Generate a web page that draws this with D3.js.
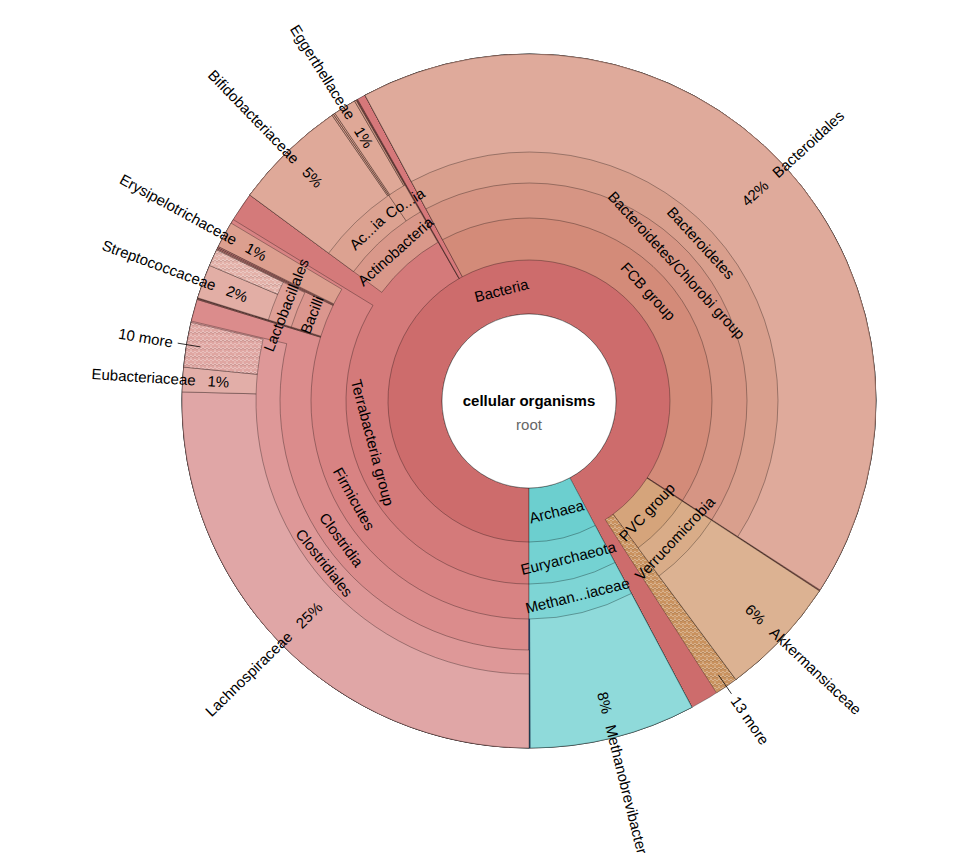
<!DOCTYPE html>
<html>
<head>
<meta charset="utf-8">
<script src="https://cdn.jsdelivr.net/npm/d3@7"></script>
<style>
body { margin: 0; background: #fff; }
text { font-family: "Liberation Sans", Arial, Helvetica, sans-serif; }
</style>
</head>
<body>
<div class="holderKrona"></div>
<script>
// taxa, their parent and the share of reads assigned to each one (percent)
// names starting with "_" are unlabelled: gaps, tiny wedges, collapsed bits
var names = [
  'cellular organisms', 'Bacteria', 'Terrabacteria group', 'Firmicutes', 'Clostridia',
  'Clostridiales', 'Lachnospiraceae', 'Eubacteriaceae', '10 more', '_gap1',
  '_gap2', '_minor1', '_minor2', 'Bacilli', 'Lactobacillales',
  'Streptococcaceae', '_lactoMore', '_gap3', '_minor3', '_minor4',
  'Erysipelotrichaceae', '_gap4', '_gap5', 'Actinobacteria', 'Ac...ia',
  'Bifidobacteriaceae', '_minor5', 'Co...ia', '_minor6', 'Eggerthellaceae',
  '_minor7', '_gap6', '_minor8', '_other', 'FCB group',
  'Bacteroidetes/Chlorobi group', 'Bacteroidetes', 'Bacteroidales', '_minor9', 'PVC group',
  'Verrucomicrobia', 'Akkermansiaceae', '13 more', '_gap7', 'Archaea',
  'Euryarchaeota', 'Methan...iaceae', 'Methanobrevibacter', '_minor10'
]
var parents = [
  '', 'cellular organisms', 'Bacteria', 'Terrabacteria group', 'Firmicutes',
  'Clostridia', 'Clostridiales', 'Clostridiales', 'Clostridiales', 'Clostridiales',
  'Clostridia', 'Firmicutes', 'Firmicutes', 'Firmicutes', 'Bacilli',
  'Lactobacillales', 'Lactobacillales', 'Bacilli', 'Firmicutes', 'Firmicutes',
  'Firmicutes', 'Firmicutes', 'Terrabacteria group', 'Terrabacteria group', 'Actinobacteria',
  'Ac...ia', 'Ac...ia', 'Actinobacteria', 'Co...ia', 'Co...ia',
  'Co...ia', 'Terrabacteria group', 'Bacteria', 'Bacteria', 'Bacteria',
  'FCB group', 'Bacteroidetes/Chlorobi group', 'Bacteroidetes', 'Bacteria', 'Bacteria',
  'PVC group', 'Verrucomicrobia', 'Bacteria', 'Bacteria', 'cellular organisms',
  'Archaea', 'Euryarchaeota', 'Methan...iaceae', 'Methan...iaceae'
]
var values = [
  0, 0, 0, 0, 0,
  0, 25.42, 1.14, 2.08, 0.06,
  1.03, 0.04, 0.04, 0, 0,
  1.58, 0.78, 0.06, 0.06, 0.06,
  1.22, 0.19, 1.36, 0, 0,
  5.28, 0.08, 0, 0.08, 1.06,
  0.08, 0.04, 0.04, 0.39, 0,
  0, 0, 42.0, 0.06, 0,
  0, 5.61, 1.08, 1.31, 0,
  0, 0, 7.74, 0.04
]

var hatched = ['10 more', '13 more', '_lactoMore']

var colors = {
  'Bacteria': '#cd6c6c', 'Terrabacteria group': '#d47a7a', 'Firmicutes': '#d88383',
  'Clostridia': '#db8c8c', 'Clostridiales': '#de9898', 'Lachnospiraceae': '#e0a6a6',
  'Eubacteriaceae': '#e2aea8', '10 more': '#dfa6a2', 'Bacilli': '#db968e',
  'Lactobacillales': '#de9f96', 'Streptococcaceae': '#e2aea5', '_lactoMore': '#e3b1a9',
  'Erysipelotrichaceae': '#dc9f8f', 'Actinobacteria': '#d9988a', 'Ac...ia': '#dca291',
  'Bifidobacteriaceae': '#dfa999', 'Co...ia': '#dca08e', 'Eggerthellaceae': '#dfa897',
  '_other': '#d6787a', 'FCB group': '#d38b79', 'Bacteroidetes/Chlorobi group': '#d69584',
  'Bacteroidetes': '#d99f8d', 'Bacteroidales': '#dfaa9b', 'PVC group': '#d5a47b',
  'Verrucomicrobia': '#d9ac88', 'Akkermansiaceae': '#dcb292', '13 more': '#c9925f',
  'Archaea': '#6ccfcf', 'Euryarchaeota': '#74d2d2', 'Methan...iaceae': '#7ed5d5',
  'Methanobrevibacter': '#8fdada'
}

function kronaChart() {
  var width = 965, height = 861
  var cx = 529, cy = 401
  var outerR = 347
  var ringInner = [0, 87, 141, 183, 218, 249, 273]

  var rows = names.map(function(n, i) {
    return { id: n, parentId: parents[i] || null, value: values[i] }
  })

  var root = d3.stratify()
    .id(function(d) { return d.id })
    .parentId(function(d) { return d.parentId })(rows)

  root.sum(function(d) { return d.value })
  d3.partition().size([2 * Math.PI, 1])(root)

  var total = root.value

  // Krona starts at six o'clock and runs clockwise
  var angle = d3.scaleLinear()
    .domain([0, 2 * Math.PI])
    .range([Math.PI, 3 * Math.PI])

  var svg = d3.select('.holderKrona')
    .append('svg')
    .attr('width', width)
    .attr('height', height)

  var defs = svg.append('defs')
  hatched.forEach(function(h, i) {
    var p = defs.append('pattern')
      .attr('id', 'hatch' + i)
      .attr('patternUnits', 'userSpaceOnUse')
      .attr('width', 8)
      .attr('height', 8)
    p.append('rect').attr('width', 8).attr('height', 8).attr('fill', colors[h])
    p.append('path')
      .attr('d', 'M0,4 L2,2 L4,4 L6,2 L8,4 M0,8 L2,6 L4,8 L6,6 L8,8 M2,2 L2,0 M6,6 L6,4')
      .attr('fill', 'none')
      .attr('stroke', '#fff')
      .attr('stroke-opacity', 0.3)
      .attr('stroke-width', 1)
    p.append('path')
      .attr('d', 'M0,5 L2,3 L4,5 L6,3 L8,5')
      .attr('fill', 'none')
      .attr('stroke', '#000')
      .attr('stroke-opacity', 0.08)
      .attr('stroke-width', 1)
  })

  var g = svg.append('g').attr('transform', 'translate(' + cx + ',' + cy + ')')

  var arc = d3.arc()
    .startAngle(function(d) { return angle(d.x0) })
    .endAngle(function(d) { return angle(d.x1) })
    .innerRadius(function(d) { return ringInner[d.depth] })
    .outerRadius(outerR)

  var nodes = root.descendants().filter(function(d) {
    return d.depth > 0 && d.id.indexOf('_gap') != 0
  })

  function fillOf(d) {
    var hi = hatched.indexOf(d.id)
    if (hi >= 0) return 'url(#hatch' + hi + ')'
    var n = d
    while (n && !colors[n.id]) n = n.parent
    return n ? colors[n.id] : '#ccc'
  }

  g.selectAll('.wedge')
    .data(nodes)
    .enter()
    .append('path')
    .attr('class', 'wedge')
    .attr('d', arc)
    .attr('fill', fillOf)
    .attr('stroke', function(d) {
      if (d.id == '_minor10') return '#1d3b5c'
      if (d.id.indexOf('_minor') == 0) return '#3a2925'
      return '#000'
    })
    .attr('stroke-opacity', function(d) {
      if (d.id == '_minor10') return 1
      return d.id.indexOf('_minor') == 0 ? 0.55 : 0.3
    })
    .attr('stroke-width', 1)

  // centre
  g.append('circle')
    .attr('r', ringInner[1])
    .attr('fill', '#fff')
    .attr('stroke', '#000')
    .attr('stroke-opacity', 0.4)

  g.append('text')
    .attr('y', 5)
    .attr('text-anchor', 'middle')
    .style('font-size', '15px')
    .style('font-weight', 'bold')
    .text(root.id)

  g.append('text')
    .attr('y', 29)
    .attr('text-anchor', 'middle')
    .style('font-size', '15px')
    .attr('fill', '#666')
    .text('root')

  function midDeg(d) {
    return (angle((d.x0 + d.x1) / 2) * 180 / Math.PI) % 360
  }
  function pt(a, r) {
    var rad = a * Math.PI / 180
    return [Math.sin(rad) * r, -Math.cos(rad) * r]
  }

  // ring labels, written along the arc
  var inner = nodes.filter(function(d) {
    return d.children && d.id.charAt(0) != '_'
  })
  inner.forEach(function(d) {
    var a = midDeg(d)
    var r = (ringInner[d.depth] + ringInner[d.depth + 1]) / 2
    var p = pt(a, r)
    var rot = (a > 90 && a < 270) ? a - 180 : a
    g.append('text')
      .attr('transform', 'translate(' + p[0] + ',' + p[1] + ') rotate(' + rot + ')')
      .attr('text-anchor', 'middle')
      .attr('dy', '0.35em')
      .style('font-size', '15px')
      .text(d.id)
  })

  // leaf labels, written outward across the rim
  var leaves = nodes.filter(function(d) {
    return !d.children && d.id.charAt(0) != '_'
  })
  leaves.forEach(function(d) {
    var a = midDeg(d)
    var right = a < 180
    var rot = right ? a - 90 : a + 90
    var more = / more$/.test(d.id)
    if (more) {
      var p1 = pt(a, 333), p2 = pt(a, 356), p3 = pt(a, 361)
      g.append('line')
        .attr('x1', p1[0]).attr('y1', p1[1])
        .attr('x2', p2[0]).attr('y2', p2[1])
        .attr('stroke', '#000')
        .attr('stroke-width', 0.8)
      g.append('text')
        .attr('transform', 'translate(' + p3[0] + ',' + p3[1] + ') rotate(' + rot + ')')
        .attr('text-anchor', right ? 'start' : 'end')
        .attr('dy', '0.35em')
        .style('font-size', '15px')
        .text(d.id)
      return
    }
    var pct = Math.round(d.value / total * 100) + '%'
    var pp = pt(a, 322), pn = pt(a, 334)
    g.append('text')
      .attr('transform', 'translate(' + pp[0] + ',' + pp[1] + ') rotate(' + rot + ')')
      .attr('text-anchor', right ? 'end' : 'start')
      .attr('dy', '0.35em')
      .style('font-size', '15px')
      .text(pct)
    g.append('text')
      .attr('transform', 'translate(' + pn[0] + ',' + pn[1] + ') rotate(' + rot + ')')
      .attr('text-anchor', right ? 'start' : 'end')
      .attr('dy', '0.35em')
      .style('font-size', '15px')
      .text(d.id)
  })
}
kronaChart()
</script>
</body>
</html>
